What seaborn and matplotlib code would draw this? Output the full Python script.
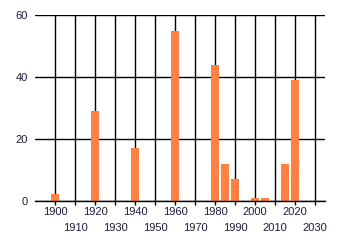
import matplotlib
matplotlib.use("Agg")
import matplotlib.pyplot as plt
import seaborn as sns
import pandas as pd

years = [1900, 1920, 1940, 1960, 1980, 1985, 1990, 2000, 2005, 2015, 2020]
values = [2.4, 29, 17, 55, 44, 12, 7, 1, 1, 12, 39]
x_ticks_row1 = [1900, 1920, 1940, 1960, 1980, 2000, 2020]
x_ticks_row2 = [1910, 1930, 1950, 1970, 1990, 2010, 2030]
y_ticks = [0, 20, 40, 60]

df = pd.DataFrame({"year": years, "value": values})

sns.set_style("white")
plt.rcParams["font.family"] = ["Liberation Sans", "DejaVu Sans"]

fig = plt.figure(figsize=(3.4, 2.45), dpi=100)
ax = fig.add_axes([35 / 340, 44 / 245, 290 / 340, 186 / 245])

sns.barplot(data=df, x="year", y="value", native_scale=True, color="#ff8040",
            saturation=1, width=0.8, ax=ax, linewidth=0)
for p in ax.patches:
    p.set_edgecolor("none")

ax.set_xlim(1890, 2035)
ax.set_ylim(0, 60)
ax.set_xticks(x_ticks_row1)
ax.set_xticklabels([str(v) for v in x_ticks_row1])
ax.set_xticks(x_ticks_row2, minor=True)
ax.set_xticklabels([str(v) for v in x_ticks_row2], minor=True)
ax.set_yticks(y_ticks)
ax.set_xlabel("")
ax.set_ylabel("")

ax.set_axisbelow(True)
ax.grid(True, which="both", axis="x", color="black", linewidth=1.0)
ax.grid(True, which="major", axis="y", color="black", linewidth=1.0)
for s in ["left", "right", "top"]:
    ax.spines[s].set_visible(False)
ax.spines["bottom"].set_color("black")
ax.spines["bottom"].set_linewidth(1.0)

ax.tick_params(axis="x", which="major", length=3, width=1.0, color="black", pad=1.5,
               labelsize=8, labelcolor="#1c1c3c", bottom=True)
ax.tick_params(axis="x", which="minor", length=3, width=1.0, color="black", pad=13,
               labelsize=8, labelcolor="#1c1c3c", bottom=True)
ax.tick_params(axis="y", length=0, pad=5, labelsize=8, labelcolor="#1c1c3c")

fig.savefig("out.png", dpi=100)
